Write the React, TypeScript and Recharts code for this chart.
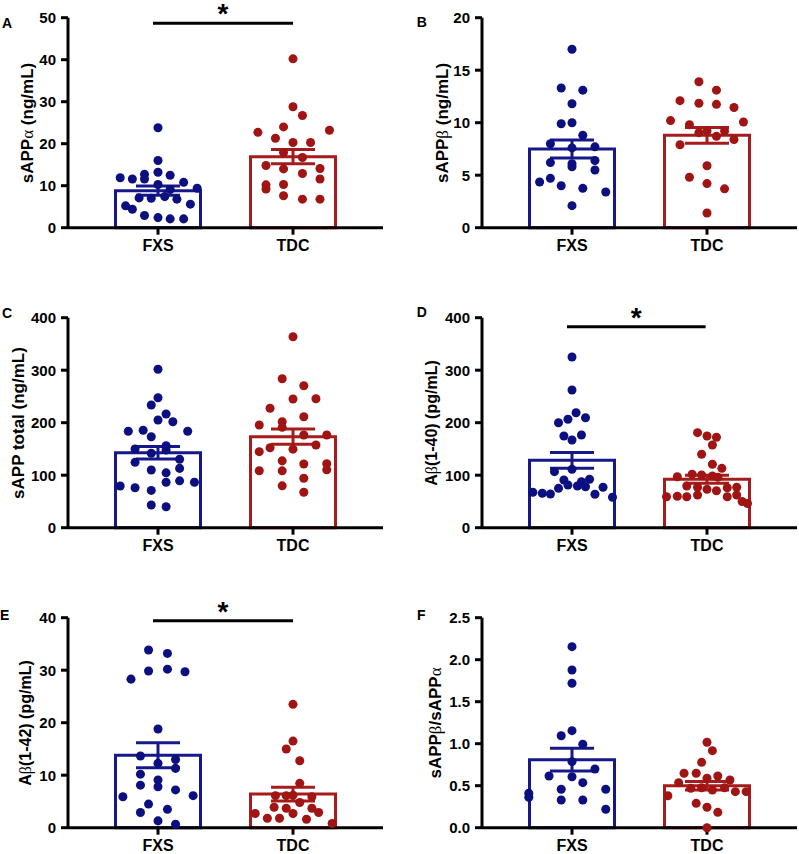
import React from "react";
import { ComposedChart, Bar, ErrorBar, Scatter, XAxis, YAxis, ReferenceLine } from "recharts";

const FONT = '"Liberation Sans", Arial, Helvetica, sans-serif';
const GREEK = '"Liberation Serif", "DejaVu Serif", serif';
const BLUE = "#16188a";
const RED = "#a51c1c";
const BLUE_DOT = "#0c0f80";
const RED_DOT = "#a01414";

const groups = ["FXS", "TDC"];

// A: sAPPα
const aTicks = [0, 10, 20, 30, 40, 50];
const aMean = [8.8, 16.9];
const aSem = [1.1, 1.7];
const aFxs = [
  [1, 23.8], [1, 16.0], [0.72, 11.9], [0.81, 11.6], [0.9, 12.7], [0.9, 11.6], [1, 13.2], [1.09, 12.5],
  [1.19, 10.8], [1, 10.3], [1.29, 9.4], [1.09, 9.1], [0.86, 7.1], [0.95, 7.0], [1.05, 7.4], [1.14, 6.8],
  [0.76, 5.2], [0.81, 4.4], [1.24, 5.6], [0.9, 2.9], [1, 2.4], [1.09, 2.1], [1.19, 2.1],
];
const aTdc = [
  [2, 40.2], [2, 28.8], [2.07, 26.7], [1.93, 24.0], [1.74, 22.7], [2.27, 23.2], [1.87, 21.3], [2, 20.3],
  [2.13, 20.3], [1.93, 17.9], [2.07, 16.7], [1.8, 14.8], [1.93, 14.0], [2.2, 14.1], [2.07, 12.9], [2.2, 11.6],
  [1.8, 10.2], [1.8, 9.2], [1.93, 10.3], [1.93, 7.6], [2.07, 6.8], [2.2, 6.8],
];

// B: sAPPβ
const bTicks = [0, 5, 10, 15, 20];
const bMean = [7.5, 8.8];
const bSem = [0.85, 0.75];
const bFxs = [
  [1, 17.0], [0.92, 13.3], [1.08, 13.1], [1, 11.8], [0.92, 9.9], [1, 10.0], [1.08, 8.8], [0.84, 8.0],
  [1, 7.6], [1.17, 7.7], [0.84, 6.2], [1, 6.1], [1, 5.8], [1.17, 6.4], [1.17, 5.5], [0.76, 4.35],
  [0.84, 4.7], [0.92, 4.0], [1.08, 3.75], [1.25, 3.4], [1, 2.1],
];
const bTdc = [
  [1.94, 13.9], [2.07, 13.1], [1.8, 12.1], [1.94, 11.85], [2.07, 11.75], [2.2, 11.45], [1.73, 10.2], [2.27, 10.07],
  [1.87, 9.8], [1.94, 9.05], [2, 9.2], [2.13, 9.2], [2.07, 8.7], [2.2, 8.4], [1.8, 7.9], [2, 5.9],
  [1.87, 4.8], [2, 4.2], [2.13, 3.7], [2, 1.4],
];

// C: sAPP total
const cTicks = [0, 100, 200, 300, 400];
const cMean = [142.9, 173.3];
const cSem = [12, 14.5];
const cFxs = [
  [1, 301.7], [1, 247.6], [0.95, 233.7], [1.06, 216.6], [1, 205.1], [1.11, 201.9], [0.78, 183.6], [0.89, 185.5],
  [1.22, 183.6], [0.95, 173.3], [0.83, 150], [1.06, 156.2], [1.06, 148], [0.95, 141.7], [0.83, 124.5], [1.16, 130.5],
  [0.95, 109.9], [1.06, 104.5], [1.16, 113], [1.06, 86.5], [1.16, 89.3], [1.27, 86.5], [0.72, 79.4], [0.83, 76.2],
  [0.95, 71], [0.95, 43.2], [1.06, 40],
];
const cTdc = [
  [2, 363.8], [1.92, 283.8], [2.08, 270.5], [2, 245.1], [2.17, 245.7], [1.83, 227.4], [2.08, 211.4], [1.92, 201.9],
  [1.75, 195.6], [1.92, 191.2], [2.08, 176.6], [2.25, 176.6], [2.17, 157.5], [1.83, 152.4], [2, 149.6], [1.75, 144.8],
  [1.92, 127.3], [2.08, 121.3], [2.25, 122], [2.25, 110.5], [1.75, 108.6], [1.92, 108.3], [2.08, 94.1], [1.92, 79.7],
  [2.08, 67.4],
];

// D: Aβ(1-40)
const dTicks = [0, 100, 200, 300, 400];
const dMean = [128.4, 92.2];
const dSem = [15, 7.5];
const dFxs = [
  [1, 325.1], [1, 262.3], [1.03, 219], [0.9, 200], [0.97, 206.5], [1.1, 209.5], [0.94, 174.7], [1.07, 176.6],
  [1, 167], [1, 111.2], [0.87, 106.7], [0.94, 90.9], [1.13, 92.2], [1.07, 87.6], [0.97, 81.3], [1.04, 79.4],
  [1.1, 78.1], [0.9, 75], [1.23, 77], [0.71, 67.4], [0.78, 65.5], [0.84, 64.2], [1.17, 63.6], [1.3, 57.9],
];
const dTdc = [
  [1.93, 181], [2, 174.7], [2.07, 172.2], [2.04, 157.5], [1.96, 139.8], [2.04, 120.8], [2.11, 113.1], [1.78, 97.1],
  [1.89, 102], [1.96, 100.4], [2.04, 98.5], [2.08, 96], [1.85, 79.4], [1.93, 77], [2, 73.1], [2.07, 70.5],
  [2.15, 76.2], [2.22, 77], [1.7, 59], [1.78, 60], [1.85, 59], [1.93, 62.3], [2.15, 59], [2.22, 62.3],
  [2.26, 50], [2.3, 46],
];

// E: Aβ(1-42)
const eTicks = [0, 10, 20, 30, 40];
const eMean = [13.8, 6.4];
const eSem = [2.4, 1.3];
const eFxs = [
  [0.93, 33.85], [1.07, 33.2], [0.8, 28.3], [0.93, 29.85], [1.07, 30.2], [1.2, 29.7], [1, 18.8], [0.87, 13.65],
  [1, 12.25], [1.13, 13.0], [1.13, 11.3], [0.87, 10.2], [1, 9.1], [0.87, 8.1], [1, 7.8], [1.13, 7.2],
  [0.74, 5.9], [1.26, 6.1], [0.93, 4.5], [0.87, 2.9], [1.07, 3.5], [1, 1.3], [1.13, 0.65],
];
const eTdc = [
  [2, 23.5], [2, 16.5], [1.95, 15.0], [2.05, 12.75], [2.05, 8.45], [2, 6.2], [1.87, 6.1], [1.95, 6.1],
  [2.14, 5.9], [2.05, 4.8], [1.86, 3.9], [1.95, 3.7], [2, 2.7], [2.14, 3.7], [2.19, 2.9], [1.72, 2.7],
  [1.81, 1.8], [1.9, 1.8], [2.1, 1.6], [2.29, 0.8],
];

// F: sAPPβ/sAPPα
const fTicks = [0, 0.5, 1, 1.5, 2, 2.5];
const fMean = [0.81, 0.5];
const fSem = [0.135, 0.05];
const fFxs = [
  [1, 2.155], [1, 1.877], [1, 1.719], [1, 1.155], [0.92, 1.095], [1.08, 0.993], [1, 0.786], [1.17, 0.699],
  [0.83, 0.615], [1, 0.607], [1.08, 0.536], [0.92, 0.457], [1.25, 0.457], [0.68, 0.41], [0.68, 0.362], [0.92, 0.33],
  [1.08, 0.33], [1.25, 0.219],
];
const fTdc = [
  [2, 1.017], [2.04, 0.917], [1.96, 0.778], [1.83, 0.648], [1.92, 0.648], [2, 0.588], [2.08, 0.615], [2.17, 0.568],
  [1.79, 0.536], [1.88, 0.469], [1.96, 0.476], [2.04, 0.449], [2.13, 0.476], [1.71, 0.381], [2.21, 0.429], [2.29, 0.429],
  [1.92, 0.29], [2, 0.243], [2.08, 0.183], [2, 0.0],
];

const g = (ch: string) => <span style={{ fontFamily: GREEK, fontWeight: 400 }}>{ch}</span>;

const panels = [
  { letter: "A", lx: 2, ly: 16, title: <>sAPP{g("α")} (ng/mL)</>, tx: 26.7, ts: 17, left: 0, top: 0, width: 400, axisX: 68,
    ticks: aTicks, mean: aMean, sem: aSem, fxs: aFxs, tdc: aTdc, sig: [0.963, 2.0, 48.7] },
  { letter: "B", lx: 16.7, ly: 15, title: <>sAPP{g("β")} (ng/mL)</>, tx: 41.7, ts: 17, left: 400, top: 0, width: 399, axisX: 82,
    ticks: bTicks, mean: bMean, sem: bSem, fxs: bFxs, tdc: bTdc },
  { letter: "C", lx: 2, ly: 6, title: <>sAPP total (ng/mL)</>, tx: 18, ts: 17, left: 0, top: 300, width: 400, axisX: 68,
    ticks: cTicks, mean: cMean, sem: cSem, fxs: cFxs, tdc: cTdc },
  { letter: "D", lx: 16.7, ly: 4.6, title: <>A{g("β")}(1-40) (pg/mL)</>, tx: 31.7, ts: 16, left: 400, top: 300, width: 399, axisX: 82,
    ticks: dTicks, mean: dMean, sem: dSem, fxs: dFxs, tdc: dTdc, sig: [0.963, 1.99, 382.9] },
  { letter: "E", lx: 0, ly: 7.6, title: <>A{g("β")}(1-42) (pg/mL)</>, tx: 26, ts: 16, left: 0, top: 600, width: 400, axisX: 68,
    ticks: eTicks, mean: eMean, sem: eSem, fxs: eFxs, tdc: eTdc, sig: [0.963, 2.0, 39.4] },
  { letter: "F", lx: 17, ly: 7.6, title: <>sAPP{g("β")}/sAPP{g("α")}</>, tx: 35, ts: 17, left: 400, top: 600, width: 399, axisX: 82,
    ticks: fTicks, mean: fMean, sem: fSem, fxs: fFxs, tdc: fTdc, fmt: (v: number) => v.toFixed(1) },
];

const axisStyle = { stroke: "#000", strokeWidth: 3 };
const tickStyle = { fill: "#000", fontSize: 15, fontWeight: 700, fontFamily: FONT };

function Panel({ p }: { p: any }) {
  const rows = groups.map((name, i) => ({
    name,
    fxs: i === 0 ? p.mean[0] : null,
    fxsErr: i === 0 ? p.sem[0] : null,
    tdc: i === 1 ? p.mean[1] : null,
    tdcErr: i === 1 ? p.sem[1] : null,
  }));
  const pts = (arr: number[][]) => arr.map(([x, y]) => ({ x, y }));
  const top = p.ticks[p.ticks.length - 1];

  return (
    <div style={{ position: "absolute", left: p.left, top: p.top, width: p.width, height: 300 }}>
      <ComposedChart
        width={p.width} height={300} data={rows} barGap={-85} style={{ overflow: "visible" }}
        margin={{ top: 17.7, right: p.width - p.axisX - 315, bottom: 42.3, left: 0 }}
      >
        <XAxis
          xAxisId="cat" dataKey="name" padding={{ left: 22.5, right: 22.5 }} height={30}
          tickSize={7} tickMargin={5} axisLine={axisStyle} tickLine={axisStyle}
          tick={{ ...tickStyle, fontSize: 16 }}
        />
        <XAxis xAxisId="num" type="number" dataKey="x" domain={[1 / 3, 8 / 3]} hide allowDataOverflow />
        <YAxis
          width={p.axisX} domain={[0, top]} ticks={p.ticks} interval={0}
          tickSize={7} tickMargin={5} axisLine={axisStyle} tickLine={axisStyle}
          tick={tickStyle} tickFormatter={p.fmt}
        />
        <Bar xAxisId="cat" dataKey="fxs" barSize={85} fill="none" stroke={BLUE} strokeWidth={3} isAnimationActive={false}>
          <ErrorBar dataKey="fxsErr" width={22} stroke={BLUE} strokeWidth={3} direction="y" />
        </Bar>
        <Bar xAxisId="cat" dataKey="tdc" barSize={85} fill="none" stroke={RED} strokeWidth={3} isAnimationActive={false}>
          <ErrorBar dataKey="tdcErr" width={22} stroke={RED} strokeWidth={3} direction="y" />
        </Bar>
        <Scatter xAxisId="num" data={pts(p.fxs)} dataKey="y" fill={BLUE_DOT} isAnimationActive={false} />
        <Scatter xAxisId="num" data={pts(p.tdc)} dataKey="y" fill={RED_DOT} isAnimationActive={false} />
        {p.sig && (
          <ReferenceLine
            xAxisId="num" ifOverflow="visible"
            segment={[{ x: p.sig[0], y: p.sig[2] }, { x: p.sig[1], y: p.sig[2] }]}
            stroke="#000" strokeWidth={3}
            label={{ value: "*", position: "top", offset: 0, fontSize: 28, fontWeight: 700, fill: "#000", fontFamily: FONT }}
          />
        )}
      </ComposedChart>
      <span
        style={{
          position: "absolute", left: p.lx, top: p.ly, fontFamily: FONT, fontWeight: 700,
          fontSize: 14, lineHeight: "14px", color: "#000",
        }}
      >
        {p.letter}
      </span>
      <div
        style={{
          position: "absolute", left: p.tx, top: 122.7, transform: "translate(-50%, -50%) rotate(-90deg)",
          whiteSpace: "nowrap", fontFamily: FONT, fontWeight: 700, fontSize: p.ts, lineHeight: 1, color: "#000",
        }}
      >
        {p.title}
      </div>
    </div>
  );
}

export default function App() {
  return (
    <div style={{ position: "absolute", left: 0, top: 0, width: 799, height: 854, background: "#fff", overflow: "hidden" }}>
      {panels.map((p) => (
        <Panel key={p.letter} p={p} />
      ))}
    </div>
  );
}
